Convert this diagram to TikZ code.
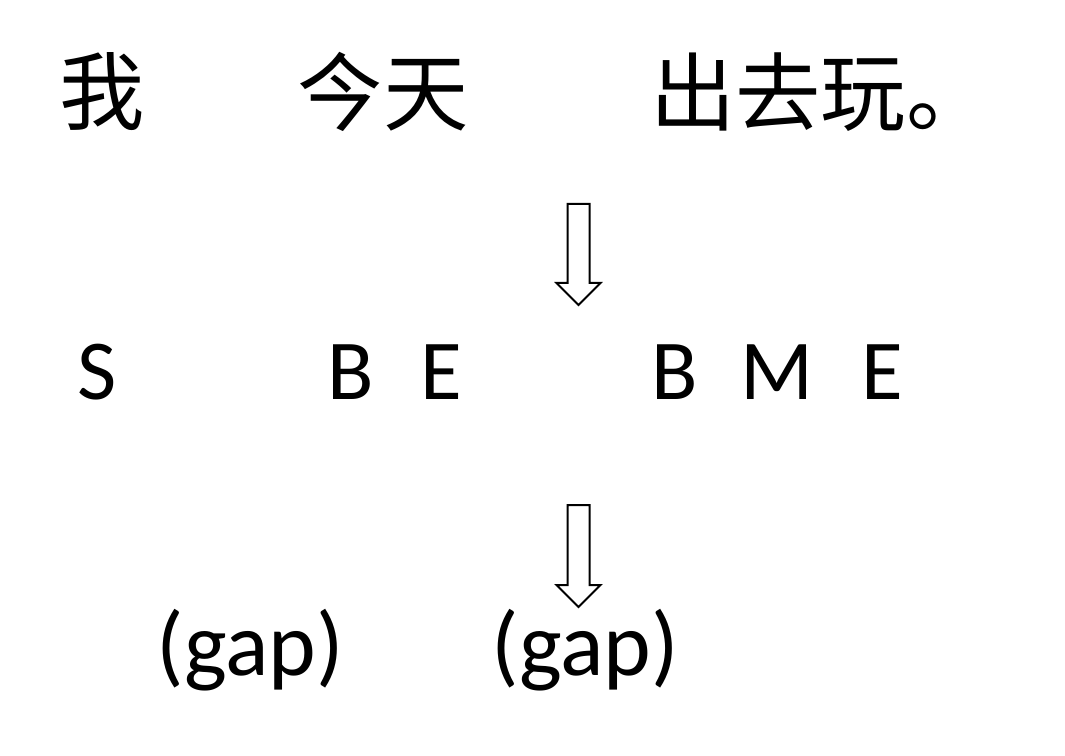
\documentclass[tikz,border=0pt]{standalone}
\usepackage{fontspec}
\setmainfont{Carlito}
\newfontfamily\cjk{Noto Sans CJK SC}
\usepackage{tikz}

\tikzset{
    hanzi/.style={font=\cjk\fontsize{64}{70}\selectfont, inner sep=0pt},
    tag/.style={font=\fontsize{64}{70}\selectfont, inner sep=0pt},
    gaptext/.style={font=\fontsize{68}{74}\selectfont, inner sep=0pt},
    blockarrow/.style={draw, line width=1.5pt, fill=white, line join=miter}
}

\begin{document}
\begin{tikzpicture}[x=0.75pt, y=-0.75pt]
    \useasboundingbox (0,0) rectangle (1065,756) ;

    \node [hanzi] (wo) at (102,92) {我} ;
    \node [hanzi] (jintian) at (383,92) {今天} ;
    \node [hanzi, anchor=west] (chuquwan) at (650,92) {出去玩。} ;

    \draw [blockarrow] (567.5,204) -- (589.5,204) -- (589.5,283) -- (600.5,283) -- (578.5,305)
        -- (556.5,283) -- (567.5,283) -- cycle ;

    \node [tag] (s) at (97,372) {S} ;
    \node [tag] (b1) at (351,372) {B} ;
    \node [tag] (e1) at (441,372) {E} ;
    \node [tag] (b2) at (675,372) {B} ;
    \node [tag] (m2) at (777,372) {M} ;
    \node [tag] (e2) at (882,372) {E} ;

    \draw [blockarrow] (567.5,505) -- (589.5,505) -- (589.5,585) -- (600.5,585) -- (578.5,607)
        -- (556.5,585) -- (567.5,585) -- cycle ;

    \node [gaptext] (gapa) at (250,650) {(gap)} ;
    \node [gaptext] (gapb) at (585,650) {(gap)} ;
\end{tikzpicture}
\end{document}
